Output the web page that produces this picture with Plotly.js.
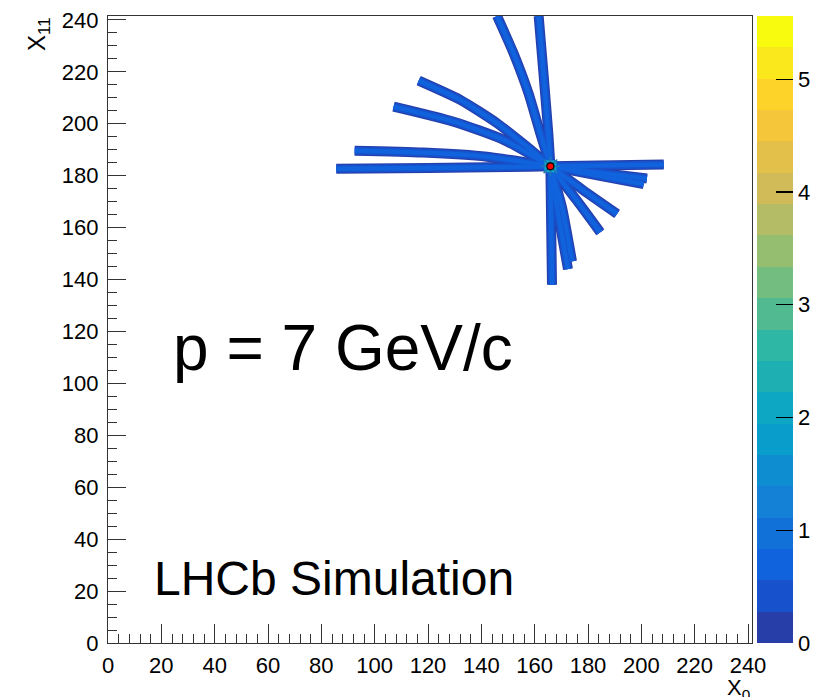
<!DOCTYPE html>
<html>
<head>
<meta charset="utf-8">
<script src="https://cdn.plot.ly/plotly-3.0.1.min.js"></script>
<style>html,body{margin:0;padding:0;background:#fff;}#chart{width:823px;height:697px;}</style>
</head>
<body>
<div id="chart"></div>
<script>
// ---- data: hit tracks in the (X0, X11) plane ----
const vertexX = [165.9];
const vertexY = [183.6];
const vertexValue = [2.2];

const trackLeftLongX = [85.6, 120, 150, 165.9, 190, 208.4];
const trackLeftLongY = [182.7, 183.0, 183.3, 183.6, 184.0, 184.3];
const trackLeftUpX = [92.5, 118, 142.1, 165.9];
const trackLeftUpY = [189.6, 188.9, 187.3, 183.6];
const trackDiagLowX = [107.1, 129.6, 148.4, 165.9];
const trackDiagLowY = [206.6, 200.8, 193.8, 183.6];
const trackDiagHighX = [116.5, 132.1, 145.9, 157.1, 165.9];
const trackDiagHighY = [216.6, 209.2, 200.2, 191.2, 183.6];
const trackSteepX = [145.9, 152.1, 157.7, 162.1, 165.9];
const trackSteepY = [241.5, 227.1, 211.7, 196.3, 183.6];
const trackVertUpX = [161.5, 163.4, 165.2, 165.9];
const trackVertUpY = [241.5, 218.2, 195.1, 183.6];
const trackRightAX = [165.9, 185, 202.1];
const trackRightAY = [183.6, 181.0, 178.9];
const trackRightBX = [165.9, 184, 200.9];
const trackRightBY = [183.6, 180.0, 176.8];
const trackLowRightAX = [165.9, 178.2, 190.9];
const trackLowRightAY = [183.6, 174.4, 165.3];
const trackLowRightBX = [165.9, 175.7, 184.6];
const trackLowRightBY = [183.6, 170.6, 158.2];
const trackVertDownX = [165.9, 166.2, 166.5];
const trackVertDownY = [183.6, 160.0, 138.0];
const trackDownAX = [165.9, 169.0, 172.5];
const trackDownAY = [183.6, 164.0, 144.0];
const trackDownBX = [165.9, 170.2, 174.0];
const trackDownBY = [183.6, 168.0, 147.0];

const xTickVals = [0, 20, 40, 60, 80, 100, 120, 140, 160, 180, 200, 220, 240];
const yTickVals = [0, 20, 40, 60, 80, 100, 120, 140, 160, 180, 200, 220, 240];
const zMax = 5.56;

const tracks = [
  [trackLeftLongX, trackLeftLongY], [trackLeftUpX, trackLeftUpY],
  [trackDiagLowX, trackDiagLowY], [trackDiagHighX, trackDiagHighY],
  [trackSteepX, trackSteepY], [trackVertUpX, trackVertUpY],
  [trackRightAX, trackRightAY], [trackRightBX, trackRightBY],
  [trackLowRightAX, trackLowRightAY], [trackLowRightBX, trackLowRightBY],
  [trackVertDownX, trackVertDownY], [trackDownAX, trackDownAY], [trackDownBX, trackDownBY]
];

// ROOT kBird palette, 20 discrete contour levels
const stops = [0, 0.125, 0.25, 0.375, 0.5, 0.625, 0.75, 0.875, 1];
const R = [0.2082, 0.0592, 0.0780, 0.0232, 0.1802, 0.5301, 0.8186, 0.9956, 0.9764];
const G = [0.1664, 0.3599, 0.5041, 0.6419, 0.7178, 0.7492, 0.7328, 0.7862, 0.9832];
const B = [0.5293, 0.8684, 0.8385, 0.7914, 0.6425, 0.4662, 0.3499, 0.1968, 0.0539];
function bird(f) {
  let k = 0;
  while (k < stops.length - 2 && f > stops[k + 1]) k++;
  const t = (f - stops[k]) / (stops[k + 1] - stops[k]);
  const c = (a) => Math.round(255 * (a[k] + (a[k + 1] - a[k]) * t));
  return 'rgb(' + c(R) + ',' + c(G) + ',' + c(B) + ')';
}
const nLev = 20;
const levelColors = [];
const colorscale = [];
for (let i = 0; i < nLev; i++) {
  const idx = Math.floor((i + 0.99) * 255 / nLev);
  const col = bird(Math.min(idx, 254) / 254);
  levelColors.push(col);
  colorscale.push([i / nLev, col]);
  colorscale.push([(i + 1) / nLev, col]);
}

const data = [];
const layers = [[10, levelColors[0]], [8, levelColors[1]], [4.5, levelColors[2]]];
layers.forEach(([w, col]) => {
  tracks.forEach(([tx, ty]) => {
    data.push({type: 'scatter', mode: 'lines', x: tx, y: ty, hoverinfo: 'skip',
      line: {color: col, width: w, shape: 'spline', smoothing: 0.6}, showlegend: false});
  });
});
// hot bins around the vertex, carrying the colour scale
data.push({type: 'scatter', mode: 'markers', x: vertexX, y: vertexY, showlegend: false,
  marker: {symbol: 'square', size: 12, color: vertexValue, cmin: 0, cmax: zMax,
    colorscale: colorscale, showscale: true,
    colorbar: {thickness: 36, thicknessmode: 'pixels', len: 627, lenmode: 'pixels',
      x: 1.0078, xanchor: 'left', xpad: 0, y: 0, yanchor: 'bottom', ypad: 0,
      outlinewidth: 0, ticks: 'inside', ticklen: 17, tickwidth: 1.2, tickcolor: '#000',
      tick0: 0, dtick: 1, tickfont: {family: 'Liberation Sans, Arial, sans-serif', size: 22, color: '#000'}}}});
data.push({type: 'scatter', mode: 'markers', x: vertexX, y: vertexY, showlegend: false,
  marker: {symbol: 'asterisk-open', size: 16, line: {color: '#f2f20a', width: 1.6}}});
data.push({type: 'scatter', mode: 'markers', x: vertexX, y: vertexY, showlegend: false,
  marker: {symbol: 'circle', size: 7, color: '#ff0000', line: {color: '#000', width: 1.2}}});

const tickFont = {family: 'Liberation Sans, Arial, sans-serif', size: 22, color: '#000'};
const layout = {
  width: 823, height: 697,
  margin: {l: 108, r: 71, t: 16, b: 54, pad: 0, autoexpand: false},
  paper_bgcolor: '#fff', plot_bgcolor: '#fff',
  showlegend: false,
  xaxis: {range: [0, 241.5], showgrid: false, zeroline: false, showline: true, linecolor: '#333',
    linewidth: 1.2, mirror: true, ticks: 'inside', ticklen: 19, tickwidth: 1, tickcolor: '#333',
    tickvals: xTickVals, ticktext: xTickVals.map(String), tickfont: tickFont, ticklabelstandoff: 2,
    automargin: false,
    minor: {dtick: 4, tick0: 0, ticks: 'inside', ticklen: 9, tickcolor: '#333', tickwidth: 1, showgrid: false}},
  yaxis: {range: [0, 241.5], showgrid: false, zeroline: false, showline: true, linecolor: '#333',
    linewidth: 1.2, mirror: true, ticks: 'inside', ticklen: 18, tickwidth: 1, tickcolor: '#333',
    tickvals: yTickVals, ticktext: yTickVals.map(String), tickfont: tickFont, ticklabelstandoff: 4,
    automargin: false,
    minor: {dtick: 5, tick0: 0, ticks: 'inside', ticklen: 9, tickcolor: '#333', tickwidth: 1, showgrid: false}},
  annotations: [
    {text: 'p = 7 GeV/c', xref: 'x', yref: 'y', x: 23.5, y: 113.5, xanchor: 'left', yanchor: 'middle',
      showarrow: false, font: {family: 'Liberation Sans, Arial, sans-serif', size: 64, color: '#000'}},
    {text: 'LHCb Simulation', xref: 'x', yref: 'y', x: 16.5, y: 25, xanchor: 'left', yanchor: 'middle',
      showarrow: false, font: {family: 'Liberation Sans, Arial, sans-serif', size: 48, color: '#000'}},
    {text: 'X<sub>0</sub>', xref: 'paper', yref: 'paper', x: 1.0, y: -0.048, xanchor: 'right', yanchor: 'top',
      showarrow: false, font: {family: 'Liberation Sans, Arial, sans-serif', size: 22, color: '#000'}},
    {text: 'X<sub>11</sub>', xref: 'paper', yref: 'paper', x: -0.108, y: 1.0, xanchor: 'center', yanchor: 'top',
      textangle: -90, showarrow: false, font: {family: 'Liberation Sans, Arial, sans-serif', size: 24, color: '#000'}}
  ]
};
Plotly.newPlot('chart', data, layout, {displayModeBar: false, staticPlot: true});
</script>
</body>
</html>
